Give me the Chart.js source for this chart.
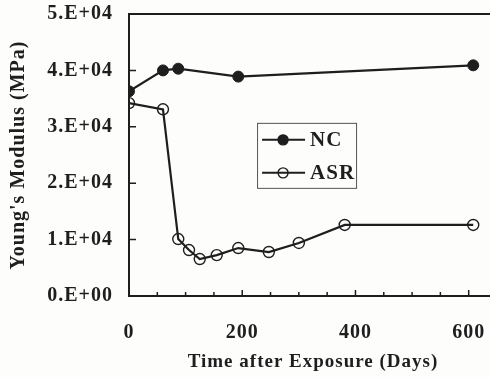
<!DOCTYPE html>
<html>
<head>
<meta charset="utf-8">
<script src="https://cdn.jsdelivr.net/npm/chart.js@4.4.0/dist/chart.umd.min.js"></script>
<style>
  html, body { margin: 0; padding: 0; background: #fdfdfc; overflow: hidden; }
  #wrap { position: absolute; left: 0; top: 0; width: 510px; height: 377px; }
</style>
</head>
<body>
<div id="wrap"><canvas id="modulusChart" width="510" height="377"></canvas></div>
<script>
const ncDays = [0, 60, 87, 193, 608];
const ncModulus = [36300, 40000, 40300, 38900, 40900];

const asrDays = [0, 60, 87, 106, 125, 155, 193, 247, 300, 381, 608];
const asrModulus = [34200, 33100, 10100, 8150, 6550, 7250, 8500, 7800, 9400, 12600, 12600];

const xTicks = [0, 200, 400, 600];
const yTicks = [0, 10000, 20000, 30000, 40000, 50000];
const yTickLabels = ['0.E+00', '1.E+04', '2.E+04', '3.E+04', '4.E+04', '5.E+04'];

const ink = '#1e1e1e';
const serif = '"Liberation Serif", "Times New Roman", serif';

function toPoints(xs, ys) {
  return xs.map((x, i) => ({ x: x, y: ys[i] }));
}

// wider bold serif lettering, set before layout measures the labels
const spacing = {
  id: 'spacing',
  beforeUpdate(chart) { chart.ctx.letterSpacing = '1px'; },
  beforeDraw(chart) { chart.ctx.letterSpacing = '1px'; }
};

// frame around the plot plus short tick marks pointing inward
const framePlugin = {
  id: 'frame',
  afterDraw(chart) {
    const { ctx, chartArea: a, scales } = chart;
    ctx.save();
    ctx.strokeStyle = ink;
    ctx.lineWidth = 2;
    ctx.strokeRect(a.left, a.top, a.right - a.left, a.bottom - a.top);
    ctx.lineWidth = 1.5;
    ctx.beginPath();
    for (let d = 50; d <= 650; d += 50) {
      const px = scales.x.getPixelForValue(d);
      const len = d % 200 === 0 ? 6 : 4;
      ctx.moveTo(px, a.bottom);
      ctx.lineTo(px, a.bottom - len);
    }
    yTicks.slice(1, -1).forEach(v => {
      const py = scales.y.getPixelForValue(v);
      ctx.moveTo(a.left, py);
      ctx.lineTo(a.left + 7, py);
    });
    ctx.stroke();
    ctx.restore();
  }
};

// boxed legend sitting inside the plot
const boxLegend = {
  id: 'boxLegend',
  afterDatasetsDraw(chart) {
    const { ctx, chartArea: a } = chart;
    const w = a.right - a.left, h = a.bottom - a.top;
    const bx = a.left + w * 0.348, by = a.top + h * 0.386;
    const bw = 99, bh = 65;
    ctx.save();
    ctx.fillStyle = '#fdfdfc';
    ctx.fillRect(bx, by, bw, bh);
    ctx.strokeStyle = '#555';
    ctx.lineWidth = 1;
    ctx.strokeRect(bx + 0.5, by + 0.5, bw, bh);
    chart.data.datasets.forEach((ds, i) => {
      const cy = by + 17 + i * 33;
      ctx.strokeStyle = ink;
      ctx.lineWidth = 2;
      ctx.beginPath();
      ctx.moveTo(bx + 5, cy);
      ctx.lineTo(bx + 48, cy);
      ctx.stroke();
      ctx.beginPath();
      ctx.arc(bx + 26, cy, 5, 0, Math.PI * 2);
      ctx.fillStyle = ds.pointBackgroundColor;
      ctx.fill();
      ctx.lineWidth = 1.4;
      ctx.stroke();
      ctx.fillStyle = ink;
      ctx.font = 'bold 21px ' + serif;
      ctx.textBaseline = 'middle';
      ctx.fillText(ds.label, bx + 53, cy + 1);
    });
    ctx.restore();
  }
};

new Chart(document.getElementById('modulusChart'), {
  type: 'line',
  data: {
    datasets: [
      {
        label: 'NC',
        data: toPoints(ncDays, ncModulus),
        borderColor: ink,
        borderWidth: 2.2,
        pointRadius: 5.5,
        pointBackgroundColor: ink,
        pointBorderColor: ink,
        pointBorderWidth: 1
      },
      {
        label: 'ASR',
        data: toPoints(asrDays, asrModulus),
        borderColor: ink,
        borderWidth: 2.2,
        pointRadius: 5.5,
        pointBackgroundColor: 'rgba(0,0,0,0)',
        pointBorderColor: ink,
        pointBorderWidth: 1.4
      }
    ]
  },
  options: {
    responsive: false,
    animation: false,
    layout: { padding: { top: 14, right: 13, left: 0, bottom: 0 } },
    plugins: { legend: { display: false }, tooltip: { enabled: false } },
    scales: {
      x: {
        type: 'linear',
        min: 0,
        max: 650,
        afterBuildTicks: s => { s.ticks = xTicks.map(v => ({ value: v })); },
        afterFit: s => { s.height = 81; s.paddingLeft = 0; s.paddingRight = 0; },
        grid: { display: false, drawTicks: false },
        border: { display: false },
        ticks: {
          color: ink,
          padding: 25,
          font: { family: serif, size: 20, weight: 'bold' }
        },
        title: {
          display: true,
          text: 'Time after Exposure (Days)',
          color: ink,
          padding: { top: 0, bottom: 4 },
          font: { family: serif, size: 19, weight: 'bold' }
        }
      },
      y: {
        min: 0,
        max: 50000,
        afterBuildTicks: s => { s.ticks = yTicks.map(v => ({ value: v })); },
        afterFit: s => { s.width = 129; s.paddingTop = 0; s.paddingBottom = 0; },
        grid: { display: false, drawTicks: false },
        border: { display: false },
        ticks: {
          color: ink,
          padding: 16,
          font: { family: serif, size: 20, weight: 'bold' },
          callback: (v, i) => yTickLabels[i]
        },
        title: {
          display: true,
          text: "Young's Modulus (MPa)",
          color: ink,
          padding: { top: 7, bottom: 0 },
          font: { family: serif, size: 20, weight: 'bold' }
        }
      }
    }
  },
  plugins: [spacing, framePlugin, boxLegend]
});
</script>
</body>
</html>
